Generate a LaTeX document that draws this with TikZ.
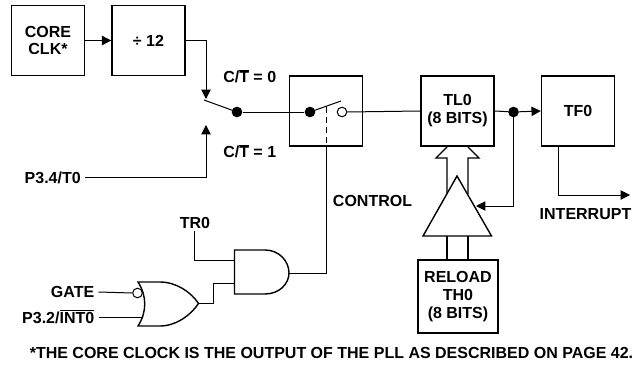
\documentclass[tikz,border=0pt]{standalone}
\usepackage{fontspec}
\setmainfont{Liberation Sans}[BoldFont={Liberation Sans Bold}]
\usetikzlibrary{arrows.meta,calc}
\newcommand{\ovbar}[1]{$\overline{\mbox{\bfseries #1}}$}
\tikzset{
 px/.style={x=0.75pt,y=-0.75pt},
 box/.style={draw,line width=1.05pt,inner sep=0pt,align=center,font=\fontsize{12}{13.4}\selectfont\bfseries},
 bw/.style={minimum width=54.75pt,minimum height=52.5pt},
 lab/.style={inner sep=0pt,font=\fontsize{12}{13.4}\selectfont\bfseries},
 wire/.style={line width=0.75pt},
 arr/.style={wire,-{Triangle[length=7pt,width=7pt]}},
 thick wire/.style={line width=1.05pt},
 dot/.style={circle,fill=black,inner sep=0pt,minimum size=8pt},
 open/.style={circle,draw,fill=white,line width=0.75pt,inner sep=0pt,minimum size=7.2pt},
}
\begin{document}
\begin{tikzpicture}[px]
\useasboundingbox (0,0) rectangle (635,364);
\node[box,bw] (clk) at (48,40.5) {CORE\\CLK*};
\node[box,bw] (div) at (148.5,40.5) {÷ 12};
\node[box,bw] (sw) at (326,111) {};
\node[box,bw] (tl) at (457.5,111) {TL0\\(8 BITS)};
\node[box,bw] (tf) at (578,111) {TF0};
\node[box,minimum width=60pt,minimum height=54.75pt] (th) at (458,296.5) {RELOAD\\TH0\\(8 BITS)};
\node[lab,anchor=west] (c0) at (223,76) {C/\ovbar{T} = 0};
\node[lab,anchor=west] (c1) at (223,151) {C/\ovbar{T} = 1};
\node[lab,anchor=east] (p34) at (81,177.5) {P3.4/T0};
\node[lab] (ctrl) at (372.5,201) {CONTROL};
\node[lab] (intr) at (585.5,214) {INTERRUPT};
\node[lab] (tr0) at (195,223) {TR0};
\node[lab,anchor=east] (gate) at (94.5,292) {GATE};
\node[lab,anchor=east] (p32) at (94.5,317) {P3.2/\ovbar{INT0}};
\node[inner sep=0pt,font=\fontsize{12}{14}\selectfont\bfseries] (foot) at (331.5,353) {*THE CORE CLOCK IS THE OUTPUT OF THE PLL AS DESCRIBED ON PAGE 42.};
% switch 1
\node[dot] (d1) at (237,112) {};
\coordinate (s1) at (204,100);
\coordinate (t0) at (206,99);
\coordinate (t1) at (206,125);
\draw[arr] (clk.east) -- (div.west);
\draw[arr] (div.east) -- (206,40.5) -- (t0);
\draw[arr] (p34.east) ++(4,0) -- (206,177.5) -- (t1);
\draw[wire] (s1) -- (d1.center);
% control switch
\node[dot] (d2) at (310,112) {};
\node[open] (o2) at (342,112) {};
\coordinate (s2) at (341,101);
\coordinate (hinge) at (326,106.5);
\coordinate (swb) at (326,146);
\draw[wire] (d1) -- (d2);
\draw[wire] (d2.center) -- (s2);
\draw[wire] (o2.east) -- (tl.west);
\draw[wire,dash pattern=on 5pt off 2.5pt] (hinge) -- (swb);
% gates
\coordinate (aout) at (289,273);
\coordinate (ain1) at (234.5,260);
\coordinate (ain2) at (234.5,283);
\draw[thick wire] (234.5,250) -- (265,250) .. controls (279,250) and (289,261) .. (aout) .. controls (289,284) and (279,294) .. (265,294) -- (234.5,294) -- cycle;
\coordinate (nout) at (198.5,303.5);
\draw[thick wire] (138,282) -- (160,282) .. controls (176,282) and (191,292) .. (nout) .. controls (191,315) and (176,326) .. (160,326) -- (138,326) .. controls (147,312) and (147,296) .. (138,282) -- cycle;
\node[open] (bub) at (137.5,293) {};
\coordinate (nin2) at (143,317);
\draw[wire] (swb) -- (326,273) -- (aout);
\draw[wire] (tr0.south) ++(-1,2) -- (194,260) -- (ain1);
\draw[wire] (nout) -- (213,303.5) -- (213,283) -- (ain2);
\draw[wire] (gate.east) ++(4,0) -- (bub.west);
\draw[wire] (p32.east) ++(4,0) -- (nin2);
% output side
\node[dot] (d3) at (513.5,112) {};
\coordinate (tri) at (476,206);
\draw[wire] (tl.east) -- (d3);
\draw[arr] (d3) -- (tf.west);
\draw[arr] (d3.center) -- (513.5,206) -- (tri);
\draw[arr] (558,146) -- (558,195) -- (630,195);
% reload buffer
\draw[thick wire] (457,176) -- (491.5,236) -- (423,236) -- cycle;
\draw[thick wire] (447,194) -- (447,158) -- (436,158) -- (447,147);
\draw[thick wire] (468,194) -- (468,158) -- (479,158) -- (468,147);
\draw[thick wire] (447,236) -- (447,260);
\draw[thick wire] (468,236) -- (468,260);
\end{tikzpicture}
\end{document}
